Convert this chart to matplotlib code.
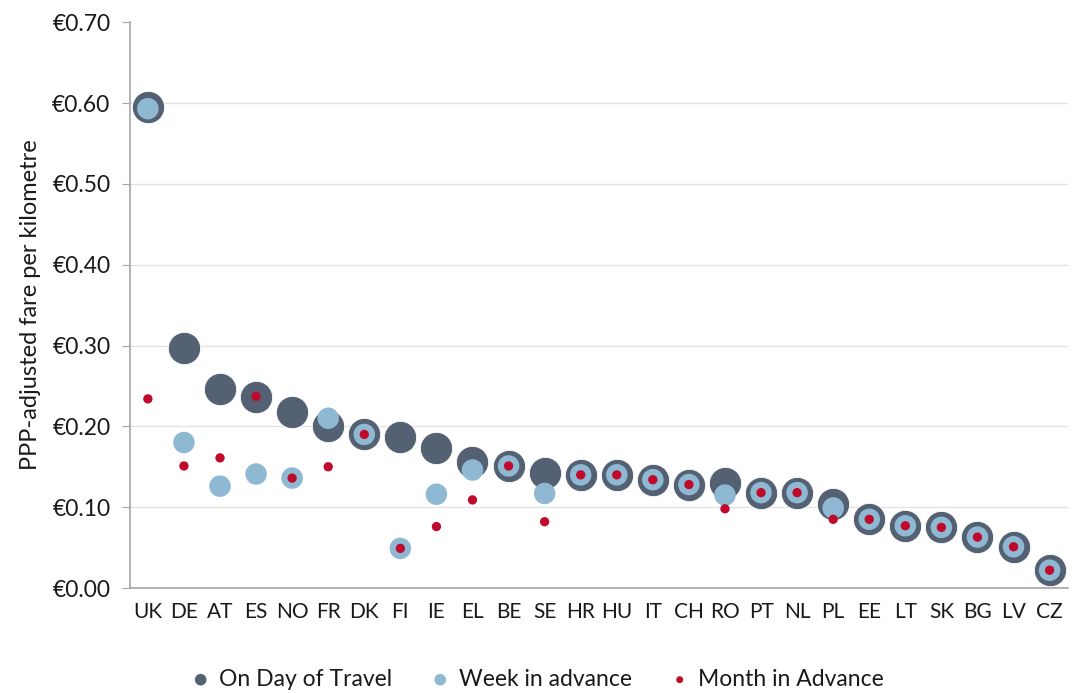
import matplotlib.pyplot as plt
from matplotlib.ticker import FuncFormatter

countries = ['UK', 'DE', 'AT', 'ES', 'NO', 'FR', 'DK', 'FI', 'IE', 'EL', 'BE', 'SE', 'HR',
             'HU', 'IT', 'CH', 'RO', 'PT', 'NL', 'PL', 'EE', 'LT', 'SK', 'BG', 'LV', 'CZ']
day_of_travel = [0.595, 0.297, 0.246, 0.236, 0.218, 0.200, 0.190, 0.187, 0.173, 0.156, 0.151,
                 0.142, 0.140, 0.140, 0.134, 0.128, 0.130, 0.118, 0.118, 0.104, 0.085, 0.077,
                 0.075, 0.063, 0.051, 0.022]
week_in_advance = [0.593, 0.180, 0.126, 0.141, 0.136, 0.210, 0.190, 0.049, 0.116, 0.146, 0.151,
                   0.117, 0.140, 0.140, 0.134, 0.128, 0.115, 0.118, 0.118, 0.099, 0.085, 0.077,
                   0.075, 0.063, 0.051, 0.022]
month_in_advance = [0.234, 0.151, 0.161, 0.237, 0.136, 0.150, 0.190, 0.049, 0.076, 0.109, 0.151,
                    0.082, 0.140, 0.140, 0.134, 0.128, 0.098, 0.118, 0.118, 0.085, 0.085, 0.077,
                    0.075, 0.063, 0.051, 0.022]

FONT = ['Lato', 'DejaVu Sans']
plt.rcParams['font.family'] = FONT
TEXT = '#1a1a1a'

fig = plt.figure(figsize=(10.73, 6.93), dpi=100)
ax = fig.add_axes([0.121, 0.1515, 0.874, 0.8165])

x = list(range(len(countries)))
ax.scatter(x, day_of_travel, s=540, color='#536173', edgecolor='white', linewidth=0.6,
           zorder=3, label='On Day of Travel')
ax.scatter(x, week_in_advance, s=240, color='#8fb8d3', edgecolor='none',
           zorder=4, label='Week in advance')
ax.scatter(x, month_in_advance, s=45, color='#c00a2b', edgecolor='none',
           zorder=5, label='Month in Advance')

ax.set_xlim(-0.5, 25.5)
ax.set_ylim(0, 0.70)
ax.set_yticks([i / 10 for i in range(8)])
ax.yaxis.set_major_formatter(FuncFormatter(lambda v, _: f'\u20ac{v:.2f}'))
ax.set_xticks(x)
ax.set_xticklabels(countries)

ax.yaxis.grid(True, color='#e3e3e3', linewidth=1)
ax.get_ygridlines()[-1].set_visible(False)
ax.set_axisbelow(True)
for side in ['top', 'right']:
    ax.spines[side].set_visible(False)
for side in ['left', 'bottom']:
    ax.spines[side].set_color('#a6a6a6')
    ax.spines[side].set_linewidth(1.2)
ax.tick_params(axis='y', colors='#a6a6a6', length=6, labelcolor=TEXT, labelsize=16.5, pad=8)
ax.tick_params(axis='x', length=0, labelcolor=TEXT, labelsize=15, pad=10)
ax.set_ylabel('PPP-adjusted fare per kilometre', fontsize=17, color=TEXT, labelpad=8)

handles, labels = ax.get_legend_handles_labels()
leg = fig.legend(handles, labels, loc='lower center', bbox_to_anchor=(0.5, -0.025), ncol=3,
                 frameon=False, fontsize=16.5, handlelength=1.0, handletextpad=0.3,
                 columnspacing=1.6)
for text in leg.get_texts():
    text.set_color(TEXT)
for h, s in zip(leg.legend_handles, [70, 70, 25]):
    h.set_sizes([s])
    h.set_edgecolor('none')

fig.savefig('out.png', dpi=100)
